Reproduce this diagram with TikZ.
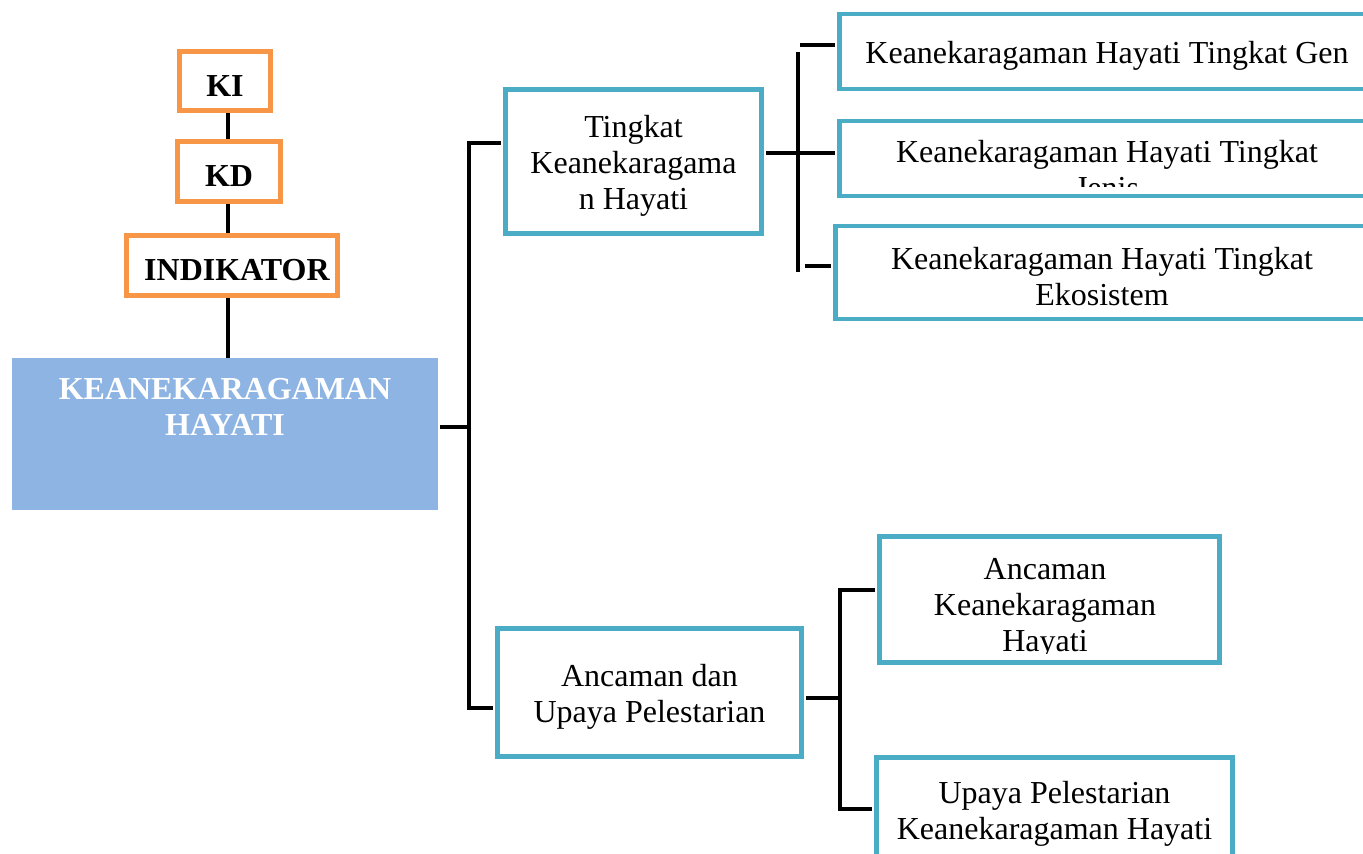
\documentclass[tikz,border=0pt]{standalone}
\usepackage{fontspec}
\setmainfont{Liberation Serif}
\usepackage{xcolor}
\definecolor{minimal-orange}{HTML}{F79646}
\definecolor{minimal-cyan}{HTML}{4BACC6}
\definecolor{minimal-blue}{HTML}{8EB4E3}
\usepackage{tikz}
\newcommand{\topgap}{\rule{0pt}{30pt}}

\begin{document}
\begin{tikzpicture}[x=1pt,y=-1pt,
  every node/.style={font=\fontsize{32}{36}\selectfont, align=center, inner sep=0pt},
  kbox/.style={draw=minimal-orange, line width=4.5pt, font=\fontsize{32}{36}\selectfont\bfseries},
  tbox/.style={draw=minimal-cyan, line width=4.5pt},
  link/.style={line width=3.5pt, shorten <=2.25pt, shorten >=2.25pt}]

    % Clip mask
    \useasboundingbox (0,0) rectangle (1363,854);
    \clip (0,0) rectangle (1363,854);

  % Draw the KI, KD and indikator boxes
  \node[kbox, minimum width=91pt, minimum height=59pt] (ki) at (225,81) {\topgap KI};
  \node[kbox, minimum width=103pt, minimum height=60pt] (kd) at (229,171.5) {\topgap KD};
  \node[kbox, minimum width=211pt, minimum height=60pt] (ind) at (232,265.5) {\topgap\hspace{10pt}INDIKATOR};

  % Draw the main box
  \node[fill=minimal-blue, minimum width=426pt, minimum height=152pt] (main) at (225,434) {};
  \node[text=white, font=\fontsize{32}{36}\selectfont\bfseries, anchor=north] (maintitle) at (225,378) {KEANEKARAGAMAN\\HAYATI};

  % Draw the stem
  \coordinate (stem) at (228,0);
  \draw[line width=3.5pt] (ki.south -| stem) -- (kd.north -| stem);
  \draw[line width=3.5pt] (kd.south -| stem) -- (ind.north -| stem);
  \draw[line width=3.5pt] (ind.south -| stem) -- (main.north -| stem);

  % Draw the middle boxes
  \node[tbox, minimum width=256pt, minimum height=144pt] (tingkat) at (633.5,161.5) {\topgap Tingkat\\Keanekaragama\\n Hayati};
  \node[tbox, minimum width=304pt, minimum height=128pt] (ancaman) at (649.5,692.5) {\topgap Ancaman dan\\Upaya Pelestarian};

  % Draw the right boxes
  \node[tbox, minimum width=535pt, minimum height=75pt] (gen) at (1107,51.5) {\topgap Keanekaragaman Hayati Tingkat Gen};
  \node[tbox, minimum width=535pt, minimum height=75pt] (jenis) at (1107,158.5) {};
  \node[tbox, minimum width=533pt, minimum height=93pt] (eko) at (1102,272.5) {\topgap Keanekaragaman Hayati Tingkat\\Ekosistem};
  \node[tbox, minimum width=340pt, minimum height=126pt] (threat) at (1049.5,599.5) {};
  \node[tbox, minimum width=356pt, minimum height=104.5pt] (upaya) at (1054.5,809.75) {\topgap Upaya Pelestarian\\Keanekaragaman Hayati};

  % Text that runs out of its box
  \begin{scope}
    \clip ([xshift=2.25pt,yshift=-2.25pt]jenis.north west) rectangle ([xshift=-2.25pt,yshift=12pt]jenis.south east);
    \node[anchor=north] (jenistext) at (1107,140.5) {Keanekaragaman Hayati Tingkat\\Jenis};
  \end{scope}
  \begin{scope}
    \clip ([xshift=2.25pt,yshift=-2.25pt]threat.north west) rectangle ([xshift=-2.25pt,yshift=10.8pt]threat.south east);
    \node[anchor=north] (threattext) at (1045,558.5) {Ancaman\\Keanekaragaman\\Hayati};
  \end{scope}

  % Draw the first fork
  \coordinate (fork1mid) at (469,427);
  \coordinate (fork1top) at (469,143);
  \coordinate (fork1bot) at (469,708);
  \draw[link] (main.east |- fork1mid) -- (fork1mid);
  \draw[link] (fork1top -| tingkat.west) -- (fork1top) -- (fork1bot) -- (fork1bot -| ancaman.west);

  % Draw the second fork
  \coordinate (fork2mid) at (798,153);
  \coordinate (fork2top) at (798,52);
  \coordinate (fork2bot) at (798,272);
  \coordinate (gentick) at (798,45);
  \coordinate (ekotick) at (803,266);
  \draw[link] (tingkat.east |- fork2mid) -- (jenis.west |- fork2mid);
  \draw[line width=3.5pt] (fork2top) -- (fork2bot);
  \draw[link] (gentick) -- (gentick -| gen.west);
  \draw[link] (ekotick) -- (ekotick -| eko.west);

  % Draw the third fork
  \coordinate (fork3mid) at (840,698);
  \coordinate (fork3top) at (840,590);
  \coordinate (fork3bot) at (840,809);
  \draw[link] (ancaman.east |- fork3mid) -- (fork3mid);
  \draw[link] (fork3top -| threat.west) -- (fork3top) -- (fork3bot) -- (fork3bot -| upaya.west);

\end{tikzpicture}
\end{document}
